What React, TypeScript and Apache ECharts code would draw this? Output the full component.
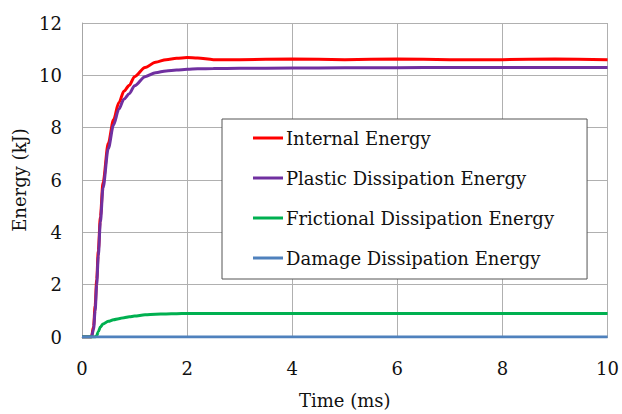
import React, { useEffect, useRef } from "react";
import * as echarts from "echarts";

const timeMs = [0, 0.1, 0.18, 0.22, 0.25, 0.28, 0.31, 0.35, 0.4, 0.5, 0.6, 0.7, 0.8, 0.9, 1.0, 1.2, 1.4, 1.6, 1.8, 2.0, 2.2, 2.5, 3, 4, 5, 6, 7, 8, 9, 10];
const internalEnergy = [0, 0, 0, 0.4, 1.2, 2.2, 3.3, 4.6, 5.9, 7.4, 8.3, 8.95, 9.4, 9.62, 9.95, 10.3, 10.5, 10.6, 10.65, 10.68, 10.66, 10.6, 10.6, 10.62, 10.6, 10.62, 10.6, 10.6, 10.62, 10.6];
const plasticEnergy = [0, 0, 0, 0.3, 1.0, 2.0, 3.1, 4.4, 5.7, 7.2, 8.1, 8.7, 9.1, 9.3, 9.6, 9.95, 10.1, 10.17, 10.2, 10.23, 10.25, 10.26, 10.27, 10.28, 10.29, 10.29, 10.3, 10.3, 10.3, 10.3];
const frictionalEnergy = [0, 0, 0, 0, 0, 0.05, 0.2, 0.38, 0.5, 0.6, 0.66, 0.7, 0.74, 0.77, 0.8, 0.85, 0.87, 0.88, 0.89, 0.9, 0.9, 0.9, 0.9, 0.9, 0.9, 0.9, 0.9, 0.9, 0.9, 0.9];
const damageEnergy = [0, 0, 0, 0, 0, 0, 0, 0, 0, 0, 0, 0, 0, 0, 0, 0, 0, 0, 0, 0, 0, 0, 0, 0, 0, 0, 0, 0, 0, 0];

const seriesNames = ["Internal Energy", "Plastic Dissipation Energy", "Frictional Dissipation Energy", "Damage Dissipation Energy"];
const seriesColors = ["#FF0000", "#7030A0", "#00B050", "#4F81BD"];
const seriesValues = [internalEnergy, plasticEnergy, frictionalEnergy, damageEnergy];

const FONT = "DejaVu Serif";

export default function App() {
  const ref = useRef<HTMLDivElement>(null);
  useEffect(() => {
    if (!ref.current) return;
    const chart = echarts.init(ref.current, null, { renderer: "svg" });
    chart.setOption({
      animation: false,
      backgroundColor: "#ffffff",
      textStyle: { fontFamily: FONT },
      grid: { left: 82, right: 10, top: 23, bottom: 73 },
      legend: {
        orient: "vertical",
        left: 222,
        top: 119,
        data: seriesNames,
        icon: "rect",
        itemWidth: 30,
        itemHeight: 3,
        itemGap: 20,
        padding: [9, 33, 11, 31],
        borderColor: "#555555",
        borderWidth: 1,
        backgroundColor: "#ffffff",
        textStyle: { fontFamily: FONT, fontSize: 18, color: "#111111", lineHeight: 20, padding: [0, 0, 0, -2] },
      },
      xAxis: {
        type: "value",
        min: 0,
        max: 10,
        interval: 2,
        name: "Time (ms)",
        nameLocation: "middle",
        nameGap: 54,
        nameTextStyle: { fontFamily: FONT, fontSize: 18, color: "#111111" },
        axisLine: { show: true, lineStyle: { color: "#A6A6A6" } },
        axisTick: { show: false },
        axisLabel: { margin: 22, fontFamily: FONT, fontSize: 18, color: "#111111" },
        splitLine: { show: true, lineStyle: { color: "#B0B0B0", width: 1 } },
      },
      yAxis: {
        type: "value",
        min: 0,
        max: 12,
        interval: 2,
        name: "Energy (kJ)",
        nameLocation: "middle",
        nameGap: 50,
        nameTextStyle: { fontFamily: FONT, fontSize: 18, color: "#111111" },
        axisLine: { show: true, lineStyle: { color: "#A6A6A6" } },
        axisTick: { show: false },
        axisLabel: { margin: 20, fontFamily: FONT, fontSize: 18, color: "#111111" },
        splitLine: { show: true, lineStyle: { color: "#B0B0B0", width: 1 } },
      },
      series: seriesNames.map((name, i) => ({
        name,
        type: "line",
        data: timeMs.map((t, j) => [t, seriesValues[i][j]]),
        showSymbol: false,
        symbol: "none",
        smooth: 0.3,
        smoothMonotone: "x",
        lineStyle: { color: seriesColors[i], width: 3 },
        itemStyle: { color: seriesColors[i] },
      })),
    });
    return () => chart.dispose();
  }, []);
  return <div ref={ref} style={{ width: 622, height: 414, position: "absolute", left: 0, top: 0 }} />;
}
